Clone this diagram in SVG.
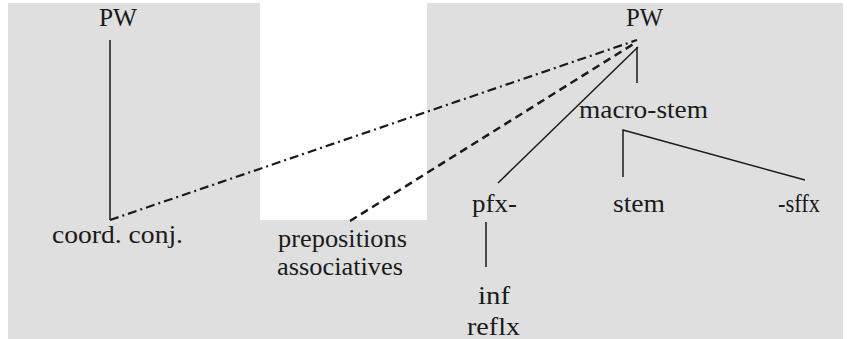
<svg xmlns="http://www.w3.org/2000/svg" width="847" height="339" viewBox="0 0 847 339">
<style>
text{font-family:"Liberation Serif","Times New Roman",serif;font-size:25px;fill:#1a1a1a}
.s{stroke:#1a1a1a;stroke-width:1.5;fill:none}
.d{stroke:#1a1a1a;stroke-width:2.5;fill:none;stroke-dasharray:8 5}
.dd{stroke:#1a1a1a;stroke-width:2.2;fill:none;stroke-dasharray:9 4 2 4}
</style>
<rect x="0" y="0" width="847" height="339" fill="#ffffff"/>
<rect x="8" y="3" width="835" height="336" fill="#dfdfdf"/>
<rect x="260" y="0" width="167" height="220" fill="#ffffff"/>
<g id="connectors">
<line class="s" x1="110" y1="40" x2="110" y2="220"/>
<line class="dd" x1="110" y1="220" x2="637" y2="40"/>
<line class="d" x1="350" y1="221" x2="635" y2="43"/>
<line class="s" x1="638" y1="47" x2="498" y2="183"/>
<line class="s" x1="637" y1="47" x2="637" y2="83"/>
<polyline class="s" points="623,177 623,130 805,180"/>
<line class="s" x1="486" y1="222" x2="486" y2="267"/>
</g>
<g id="pw-left"><text x="99" y="26" textLength="38" lengthAdjust="spacingAndGlyphs">PW</text></g>
<g id="pw-right"><text x="626" y="26" textLength="37" lengthAdjust="spacingAndGlyphs">PW</text></g>
<g id="macro-stem"><text x="579" y="118" textLength="129" lengthAdjust="spacingAndGlyphs">macro-stem</text></g>
<g id="pfx"><text x="472" y="212" textLength="45" lengthAdjust="spacingAndGlyphs">pfx-</text></g>
<g id="stem"><text x="613" y="212" textLength="52" lengthAdjust="spacingAndGlyphs">stem</text></g>
<g id="sffx"><text x="778" y="212" textLength="42" lengthAdjust="spacingAndGlyphs">-sffx</text></g>
<g id="coord-conj"><text x="52" y="243" textLength="131" lengthAdjust="spacingAndGlyphs">coord. conj.</text></g>
<g id="prepositions"><text x="278" y="247" textLength="129" lengthAdjust="spacingAndGlyphs">prepositions</text><text x="277" y="275" textLength="126" lengthAdjust="spacingAndGlyphs">associatives</text></g>
<g id="inf-reflx"><text x="478" y="304" textLength="32" lengthAdjust="spacingAndGlyphs">inf</text><text x="467" y="335" textLength="53" lengthAdjust="spacingAndGlyphs">reflx</text></g>
</svg>
